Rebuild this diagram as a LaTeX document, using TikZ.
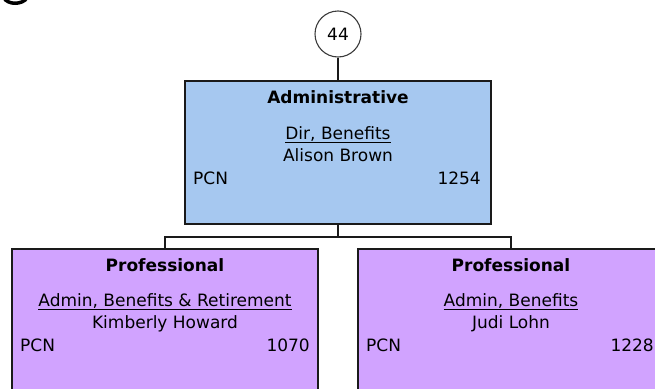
\documentclass[tikz,border=0pt]{standalone}
\usepackage{fontspec}
\setmainfont{DejaVu Sans}
\usetikzlibrary{positioning}
\definecolor{adminblue}{HTML}{A6C8F0}
\definecolor{profpurple}{HTML}{D1A3FF}
\definecolor{edgeblack}{HTML}{1A1A1A}

\begin{document}
\begin{tikzpicture}[
    x=1pt, y=-1pt,
    font=\fontsize{17}{20}\selectfont,
    orgbox/.style={rectangle, draw=edgeblack, line width=2pt, minimum width=306pt,
                   minimum height=143pt, inner sep=0pt},
    adminbox/.style={orgbox, fill=adminblue},
    profbox/.style={orgbox, fill=profpurple, minimum height=170pt},
    countnode/.style={circle, draw=edgeblack!85, line width=1.1pt, fill=white,
                      minimum size=46pt, inner sep=0pt},
    link/.style={line width=1.8pt, draw=edgeblack},
    boxtitle/.style={anchor=base, font=\fontsize{17}{20}\selectfont\bfseries},
    boxtext/.style={anchor=base, inner sep=0pt}
  ]
    % page frame, cut at the image edges
    \clip (0,0) rectangle (655,388);
    \fill[white] (0,0) rectangle (655,388);

    % remnant of a heading glyph at the top left
    \draw[line width=3.5pt] (4,-2) .. controls (8,5) and (22,5) .. (27,-2);

    % boxes
    \node[countnode] (count) at (338,34) {44};
    \node[adminbox, anchor=north] (adm)  at (338,80)  {};
    \node[profbox, anchor=north]  (pro1) at (165,248) {};
    \node[profbox, anchor=north]  (pro2) at (511,248) {};

    % connectors
    \draw[link] (count.south) -- (adm.north);
    \draw[link] (adm.south) -- ([yshift=-12pt]adm.south) coordinate (bus);
    \draw[link] (bus) -| (pro1.north);
    \draw[link] (bus) -| (pro2.north);

    % Administrative
    \node[boxtitle] (admtitle) at ([yshift=-23pt]adm.north) {Administrative};
    \node[boxtext] (admrole) at ([yshift=-59pt]adm.north) {\underline{Dir, Benefits}};
    \node[boxtext] (admname) at ([yshift=-81.5pt]adm.north) {Alison Brown};
    \node[boxtext, anchor=base west] (admpcn) at ([xshift=9pt, yshift=-104pt]adm.north west) {PCN};
    \node[boxtext, anchor=base east] (admnum) at ([xshift=-11pt, yshift=-104pt]adm.north east) {1254};

    % Professional, left
    \node[boxtitle] (protitleA) at ([yshift=-23pt]pro1.north) {Professional};
    \node[boxtext] (proroleA) at ([yshift=-58pt]pro1.north) {\underline{Admin, Benefits \& Retirement}};
    \node[boxtext] (pronameA) at ([yshift=-80.5pt]pro1.north) {Kimberly Howard};
    \node[boxtext, anchor=base west] (propcnA) at ([xshift=9pt, yshift=-103pt]pro1.north west) {PCN};
    \node[boxtext, anchor=base east] (pronumA) at ([xshift=-9pt, yshift=-103pt]pro1.north east) {1070};

    % Professional, right
    \node[boxtitle] (protitleB) at ([yshift=-23pt]pro2.north) {Professional};
    \node[boxtext] (proroleB) at ([yshift=-58pt]pro2.north) {\underline{Admin, Benefits}};
    \node[boxtext] (pronameB) at ([yshift=-80.5pt]pro2.north) {Judi Lohn};
    \node[boxtext, anchor=base west] (propcnB) at ([xshift=9pt, yshift=-103pt]pro2.north west) {PCN};
    \node[boxtext, anchor=base east] (pronumB) at ([xshift=-11pt, yshift=-103pt]pro2.north east) {1228};
\end{tikzpicture}
\end{document}
